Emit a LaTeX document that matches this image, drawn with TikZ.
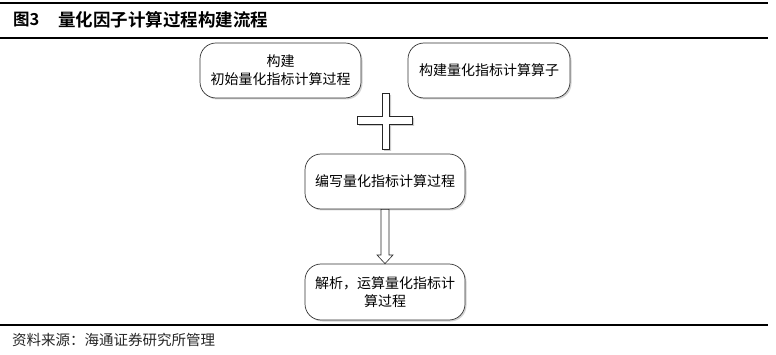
\documentclass[tikz,border=0pt]{standalone}
\usepackage{fontspec}
\newfontfamily\cjk{Noto Sans CJK SC}
\newfontfamily\cjkb{Noto Sans CJK SC Bold}
\usetikzlibrary{shadows}
\begin{document}
\begin{tikzpicture}[x=1pt,y=-1pt,
  flowbox/.style={draw=black!80,line width=0.7pt,rounded corners=16pt,fill=white,
    drop shadow={shadow xshift=1.5pt,shadow yshift=-1.5pt,opacity=0.35},
    font=\cjk\fontsize{14}{18}\selectfont,align=center,inner sep=0pt},
  rulelinestyle/.style={line width=1.2pt,black}]
\useasboundingbox (0,0) rectangle (776,355);
% rules
\coordinate (t1) at (0,3); \coordinate (t2) at (768,3);
\coordinate (m1) at (0,38); \coordinate (m2) at (768,38);
\coordinate (b1) at (0,325); \coordinate (b2) at (768,325);
\draw[rulelinestyle] (t1) -- (t2);
\draw[rulelinestyle] (m1) -- (m2);
\draw[rulelinestyle] (b1) -- (b2);
\node[anchor=west,font=\cjkb\fontsize{16.5}{18}\selectfont,inner sep=0pt] (fig) at (13,20) {图3};
\node[anchor=west,font=\cjkb\fontsize{17.5}{18}\selectfont,inner sep=0pt] (title) at (58,20) {量化因子计算过程构建流程};
% boxes
\node[flowbox,minimum width=161pt,minimum height=55pt] (b1n) at (280.5,70.5) {构建\\初始量化指标计算过程};
\node[flowbox,minimum width=162pt,minimum height=55pt] (b2n) at (489,70.5) {构建量化指标计算算子};
\node[flowbox,minimum width=160pt,minimum height=55pt] (b3n) at (385,181.5) {编写量化指标计算过程};
\node[flowbox,minimum width=160pt,minimum height=56pt] (b4n) at (385,292) {解析，运算量化指标计\\算过程};
% plus sign
\draw[fill=white,draw=black!85,line width=0.6pt,
  drop shadow={shadow xshift=2pt,shadow yshift=-2pt,opacity=0.4}]
  (382,93) -- (389,93) -- (389,116) -- (412,116) -- (412,124) -- (389,124)
  -- (389,149) -- (382,149) -- (382,124) -- (357,124) -- (357,116) -- (382,116) -- cycle;
% hollow arrow
\coordinate (ar) at (b3n.south);
\draw[fill=white,draw=black!85,line width=0.6pt]
  ([xshift=-4pt]ar) -- ([xshift=-4pt]ar |- 0,255) -- ([xshift=-8pt]ar |- 0,255)
  -- (b4n.north) -- ([xshift=8pt]ar |- 0,255) -- ([xshift=4pt]ar |- 0,255)
  -- ([xshift=4pt]ar) -- cycle;
\node[anchor=west,font=\cjk\fontsize{14.5}{15}\selectfont,inner sep=0pt,text=black!85] (src) at (12,340) {资料来源：海通证券研究所管理};
\end{tikzpicture}
\end{document}
